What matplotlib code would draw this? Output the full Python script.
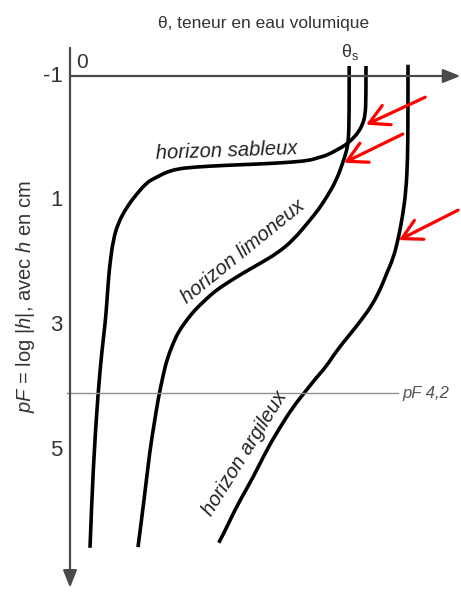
import numpy as np
import matplotlib
matplotlib.use("Agg")
import matplotlib.pyplot as plt
from matplotlib.path import Path
from matplotlib.patches import PathPatch

plt.rcParams['font.family'] = ['Liberation Sans', 'DejaVu Sans']
plt.rcParams['mathtext.fontset'] = 'custom'
plt.rcParams['mathtext.rm'] = 'Liberation Sans'
plt.rcParams['mathtext.it'] = 'Liberation Sans:italic'

# --- courbes de rétention (theta, pF) ---
sable_theta = [0.370, 0.370, 0.369, 0.366, 0.360, 0.353, 0.344, 0.333, 0.321, 0.310, 0.300,
               0.279, 0.238, 0.196, 0.154, 0.134, 0.121, 0.113, 0.104, 0.096, 0.084, 0.071,
               0.060, 0.054, 0.050, 0.048, 0.046, 0.044, 0.040, 0.035, 0.029, 0.025]
sable_pf = [-1.16, -0.62, -0.38, -0.23, -0.09, 0.01, 0.11, 0.19, 0.27, 0.31, 0.35,
            0.38, 0.41, 0.43, 0.46, 0.49, 0.54, 0.59, 0.65, 0.71, 0.88, 1.10,
            1.36, 1.63, 2.00, 2.27, 2.64, 2.96, 3.39, 4.08, 5.27, 6.56]

limon_theta = [0.349, 0.349, 0.348, 0.346, 0.341, 0.333, 0.321, 0.310, 0.300, 0.279, 0.259,
               0.238, 0.216, 0.196, 0.181, 0.169, 0.156, 0.146, 0.136, 0.129, 0.121, 0.116,
               0.110, 0.105, 0.100, 0.0925, 0.085]
limon_pf = [-1.16, -0.30, 0.03, 0.19, 0.39, 0.67, 0.94, 1.15, 1.31, 1.63, 1.84,
            2.00, 2.16, 2.32, 2.45, 2.59, 2.75, 2.91, 3.09, 3.28, 3.55, 3.82,
            4.19, 4.59, 4.99, 5.80, 6.55]

argile_theta = [0.4225, 0.4225, 0.422, 0.420, 0.416, 0.410, 0.404, 0.396, 0.3875, 0.3775, 0.366,
                0.350, 0.334, 0.320, 0.3075, 0.294, 0.279, 0.2625, 0.246, 0.229, 0.209,
                0.196, 0.186]
argile_pf = [-1.18, -0.30, 0.35, 0.83, 1.23, 1.63, 1.92, 2.16, 2.43, 2.67, 2.88,
             3.14, 3.39, 3.66, 3.84, 4.06, 4.30, 4.63, 4.99, 5.43, 5.88,
             6.23, 6.48]

pf_seuil = 4.08      # ligne pF 4,2 (position sur le schéma)
y_ticks = [-1, 1, 3, 5]

# flèches rouges : départ -> point d'entrée d'air
fleche_depart = [(0.444, -0.66), (0.416, -0.07), (0.485, 1.15)]
fleche_pointe = [(0.370, -0.22), (0.3425, 0.39), (0.411, 1.63)]


def courbe_lisse(th, pf):
    # bezier quadratiques passant par les milieux -> trait lissé
    pts = np.column_stack([th, pf])
    verts = [pts[0]]
    codes = [Path.MOVETO]
    for i in range(1, len(pts) - 1):
        verts += [pts[i], (pts[i] + pts[i + 1]) / 2]
        codes += [Path.CURVE3, Path.CURVE3]
    verts.append(pts[-1])
    codes.append(Path.LINETO)
    return Path(verts, codes)


# --- figure ---
fig = plt.figure(figsize=(4.61, 5.92), dpi=100)
ax = fig.add_axes([0, 0, 1, 1])
ax.set_xlim(-0.0875, 0.48875)
ax.set_ylim(7.269, -2.218)
ax.axis('off')

axe_col = '#4a4a4a'
# axes avec flèches
ax.annotate('', xy=(0.488, -1), xytext=(0, -1),
            arrowprops=dict(arrowstyle='-|>,head_length=0.7,head_width=0.28', color=axe_col,
                            lw=1.6, mutation_scale=15, shrinkA=0, shrinkB=0))
ax.annotate('', xy=(0, 7.2), xytext=(0, -1.45),
            arrowprops=dict(arrowstyle='-|>,head_length=0.7,head_width=0.28', color=axe_col,
                            lw=1.6, mutation_scale=15, shrinkA=0, shrinkB=0))

# ligne pF 4,2
ax.plot([-0.004, 0.41], [pf_seuil, pf_seuil], color='#909090', lw=1.0)
ax.text(0.416, pf_seuil, 'pF 4,2', style='italic', color='#555555', fontsize=12,
        ha='left', va='center')

# courbes
for th, pf in [(sable_theta, sable_pf), (limon_theta, limon_pf), (argile_theta, argile_pf)]:
    ax.add_patch(PathPatch(courbe_lisse(th, pf), fill=False, edgecolor='black', lw=2.6,
                           joinstyle='round', capstyle='butt'))

# flèches rouges
for d, p in zip(fleche_depart, fleche_pointe):
    ax.annotate('', xy=p, xytext=d,
                arrowprops=dict(arrowstyle='->,head_length=0.7,head_width=0.38', color='red',
                                lw=2.3, mutation_scale=20, shrinkA=0, shrinkB=0))

# graduations
txt_col = '#333333'
for t in y_ticks:
    ax.text(-0.009, t, str(t), ha='right', va='center', fontsize=16, color=txt_col)
ax.text(0.015, -1.21, '0', ha='center', va='center', fontsize=15, color=txt_col)

# titres
ax.text(0.242, -1.84, 'θ, teneur en eau volumique', ha='center', va='center',
        fontsize=12.5, color=txt_col)
ax.text(0.35, -1.39, 'θ$_\\mathregular{s}$', ha='center', va='center', fontsize=13, color=txt_col)
ax.text(-0.056, 2.53, r'$\mathit{pF}$ = log |$\mathit{h}$|, avec $\mathit{h}$ en cm',
        rotation=90, ha='center', va='center', fontsize=14.5, color=txt_col)

# noms des horizons
ax.text(0.196, 0.20, 'horizon sableux', style='italic', rotation=2, fontsize=14.5,
        ha='center', va='center', color='#222222')
ax.text(0.216, 1.82, 'horizon limoneux', style='italic', rotation=39, fontsize=14.5,
        ha='center', va='center', color='#222222', rotation_mode='anchor')
ax.text(0.219, 5.04, 'horizon argileux', style='italic', rotation=58, fontsize=14.5,
        ha='center', va='center', color='#222222', rotation_mode='anchor')

fig.savefig('out.png', dpi=100)
